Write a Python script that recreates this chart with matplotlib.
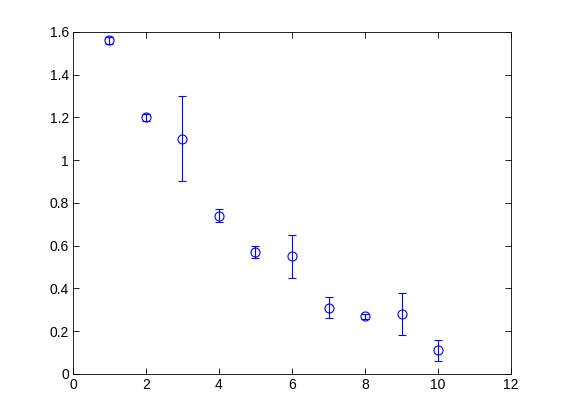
import matplotlib
matplotlib.use("Agg")
import matplotlib.pyplot as plt
import numpy as np

# values
x = [1, 2, 3, 4, 5, 6, 7, 8, 9, 10]
y = [1.56, 1.20, 1.10, 0.74, 0.57, 0.55, 0.31, 0.27, 0.28, 0.11]
err = [0.015, 0.015, 0.20, 0.03, 0.03, 0.10, 0.05, 0.012, 0.10, 0.05]
xticks = [0, 2, 4, 6, 8, 10, 12]
yticks = [0, 0.2, 0.4, 0.6, 0.8, 1, 1.2, 1.4, 1.6]

plt.rcParams["font.family"] = ["Liberation Sans", "DejaVu Sans"]

fig = plt.figure(figsize=(5.61, 4.2), dpi=100)
ax = fig.add_axes([0.13, 0.11, 0.781, 0.814])

ax.errorbar(x, y, yerr=err, fmt="o", color="blue", mfc="none", mec="blue",
            ms=6.5, mew=0.8, elinewidth=0.8, capsize=3, capthick=0.8)

ax.set_xlim(0, 12)
ax.set_ylim(0, 1.6)
ax.set_xticks(xticks)
ax.set_yticks(yticks)
ax.set_yticklabels([f"{v:g}" for v in yticks])
ax.tick_params(direction="in", top=True, right=True, length=4, width=0.6,
               labelsize=10, pad=3)
for s in ax.spines.values():
    s.set_linewidth(0.6)

fig.savefig("out.png", dpi=100)
